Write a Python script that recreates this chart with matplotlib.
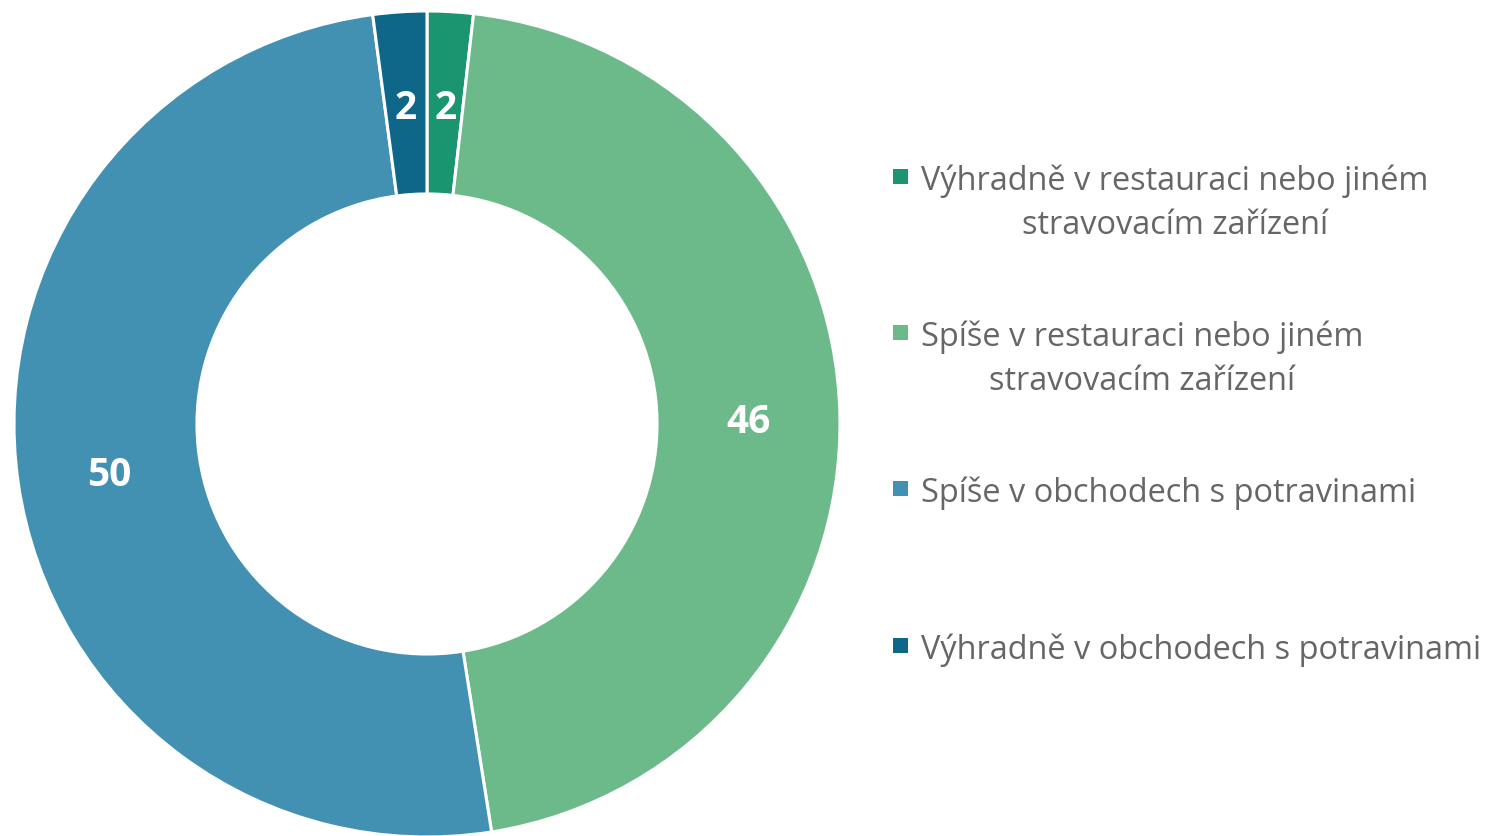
import matplotlib
matplotlib.use("Agg")
import matplotlib.pyplot as plt
from matplotlib.patches import Rectangle

categories = [
    "Výhradně v restauraci nebo jiném\nstravovacím zařízení",
    "Spíše v restauraci nebo jiném\nstravovacím zařízení",
    "Spíše v obchodech s potravinami",
    "Výhradně v obchodech s potravinami",
]
values = [1.8, 45.7, 50.4, 2.1]
colors = ["#1b9470", "#6cba8a", "#4391b2", "#0e6789"]

W, H = 1491, 837
fig = plt.figure(figsize=(W / 100, H / 100), dpi=100)
fig.patch.set_facecolor("white")

cx, cy, R = 427, 425, 413
ax = fig.add_axes([(cx - R) / W, (H - cy - R) / H, 2 * R / W, 2 * R / H])
wedges, texts, autotexts = ax.pie(
    values,
    colors=colors,
    startangle=90,
    counterclock=False,
    radius=1,
    wedgeprops=dict(width=0.443, edgecolor="white", linewidth=2.2),
    autopct=lambda p: f"{p:.0f}",
    pctdistance=0.778,
    textprops=dict(color="white", fontsize=28, fontweight="bold", family="Open Sans"),
)
for t in autotexts:
    t.set_va("center_baseline")
ax.set_xlim(-1, 1)
ax.set_ylim(-1, 1)
ax.set_aspect("equal")
ax.axis("off")

# legend drawn manually (Excel-style wrapped, centred text)
leg_y = [177, 333, 489, 646]
sq = 15
fs = 23.4
line_px = 45
for cat, col, y in zip(categories, colors, leg_y):
    fig.patches.append(Rectangle((893 / W, (H - y - sq / 2) / H), sq / W, sq / H,
                                 transform=fig.transFigure, facecolor=col, edgecolor="none"))
    lines = cat.split("\n")
    t = fig.text(921 / W, (H - y) / H, lines[0], ha="left", va="center_baseline",
                 fontsize=fs, color="#666666", family="Open Sans")
    if len(lines) > 1:
        fig.canvas.draw()
        bb = t.get_window_extent()
        xc = (bb.x0 + bb.x1) / 2
        fig.text(xc / W, (H - y - line_px) / H, lines[1], ha="center", va="center_baseline",
                 fontsize=fs, color="#666666", family="Open Sans")

fig.savefig("out.png", dpi=100, facecolor="white")
